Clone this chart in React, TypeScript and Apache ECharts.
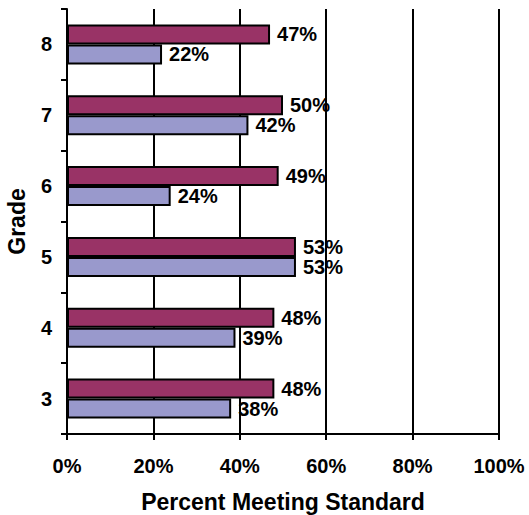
import React, { useEffect, useRef } from "react";
import * as echarts from "echarts";

const grades = ["3", "4", "5", "6", "7", "8"];
const maroonValues = [48, 48, 53, 49, 50, 47];
const lavenderValues = [38, 39, 53, 24, 42, 22];
const xTicks = { min: 0, max: 100, interval: 20 };

const FONT = "'Liberation Sans', Arial, sans-serif";

export default function App() {
  const ref = useRef<HTMLDivElement>(null);
  useEffect(() => {
    document.body.style.margin = "0";
    const chart = echarts.init(ref.current!, null, { renderer: "svg" });
    const labelStyle = {
      show: true,
      position: "right" as const,
      distance: 7,
      formatter: "{c}%",
      color: "#000",
      fontFamily: FONT,
      fontWeight: "bold" as const,
      fontSize: 20,
    };
    chart.setOption({
      animation: false,
      backgroundColor: "#ffffff",
      grid: {
        left: 67,
        right: 30,
        top: 9,
        bottom: 81,
        containLabel: false,
        outerBoundsMode: "none",
      },
      xAxis: {
        type: "value",
        min: xTicks.min,
        max: xTicks.max,
        interval: xTicks.interval,
        name: "Percent Meeting Standard",
        nameLocation: "middle",
        nameGap: 56,
        nameTextStyle: { color: "#000", fontFamily: FONT, fontWeight: "bold", fontSize: 23 },
        axisLine: { show: true, lineStyle: { color: "#000", width: 2 } },
        axisTick: { show: true, length: 6, lineStyle: { color: "#000", width: 2 } },
        axisLabel: {
          formatter: "{value}%",
          color: "#000",
          fontFamily: FONT,
          fontWeight: "bold",
          fontSize: 20,
          margin: 22,
        },
        splitLine: { show: true, lineStyle: { color: "#000", width: 2 } },
      },
      yAxis: {
        type: "category",
        data: grades,
        name: "Grade",
        nameLocation: "middle",
        nameGap: 39,
        nameRotate: 90,
        nameTextStyle: { color: "#000", fontFamily: FONT, fontWeight: "bold", fontSize: 23 },
        axisLine: { show: true, lineStyle: { color: "#000", width: 2 } },
        axisTick: { show: true, length: 6, lineStyle: { color: "#000", width: 2 } },
        axisLabel: {
          color: "#000",
          fontFamily: FONT,
          fontWeight: "bold",
          fontSize: 20,
          margin: 15,
        },
        splitLine: { show: false },
      },
      series: [
        {
          name: "Series 1",
          type: "bar",
          data: maroonValues,
          barWidth: 20,
          barGap: "0%",
          itemStyle: { color: "#993366", borderColor: "#000", borderWidth: 2 },
          label: labelStyle,
        },
        {
          name: "Series 2",
          type: "bar",
          data: lavenderValues,
          barWidth: 20,
          barGap: "0%",
          itemStyle: { color: "#9999cc", borderColor: "#000", borderWidth: 2 },
          label: labelStyle,
        },
      ],
    });
    return () => chart.dispose();
  }, []);
  return <div ref={ref} style={{ width: 529, height: 515 }} />;
}
